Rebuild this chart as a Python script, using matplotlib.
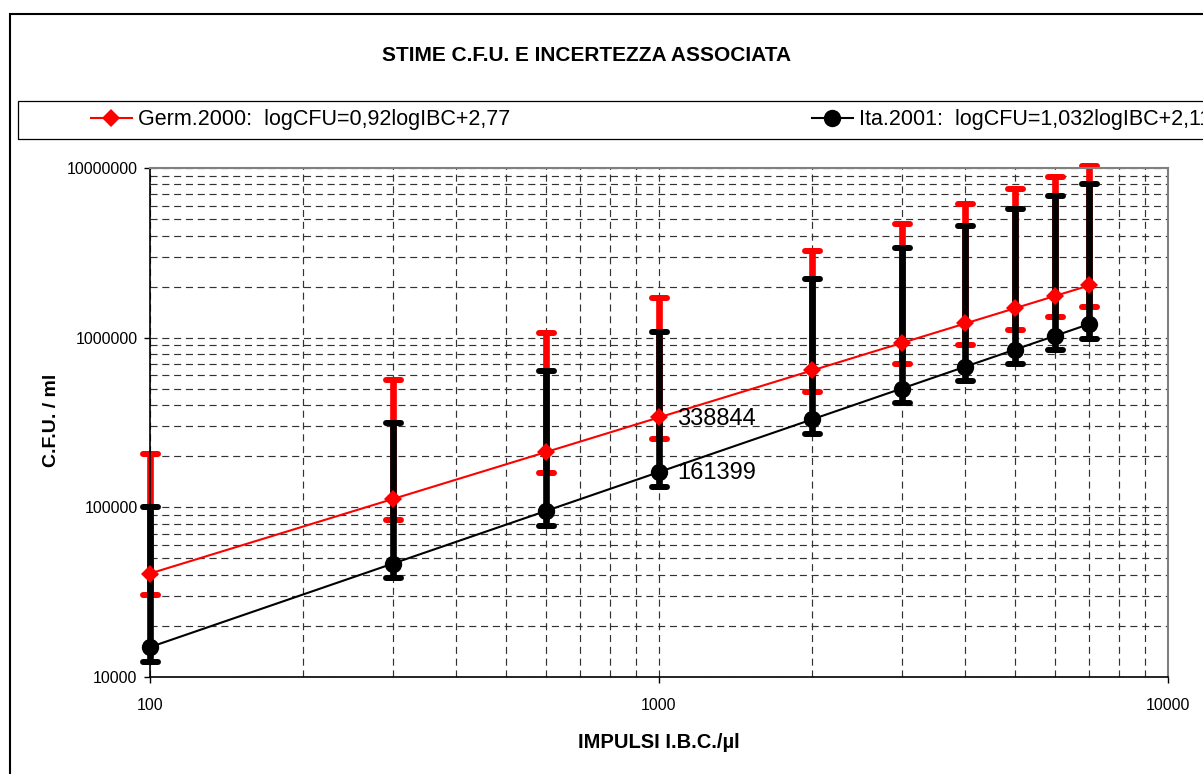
"""
CFU estimates vs IBC impulses with associated uncertainty (log-log).
Germ.2000 and Ita.2001 regressions with asymmetric error bars.
"""

import matplotlib
matplotlib.use("Agg")
import matplotlib.pyplot as plt
from matplotlib.markers import MarkerStyle
from matplotlib.patches import Rectangle
from matplotlib.ticker import LogLocator, FuncFormatter, NullFormatter

plt.rcParams["font.family"] = ["Liberation Sans", "DejaVu Sans"]

# ── Data ──────────────────────────────────────────────────────────────────────
IBC = [100, 300, 600, 1000, 2000, 3000, 4000, 5000, 6000, 7000]

GERM     = [40738, 111950, 211770, 338844, 641180, 930980, 1213200, 1489400, 1761800, 2030400]
GERM_HI  = [205000, 563000, 1065000, 1704000, 3225000, 4683000, 6102000, 7492000, 8862000, 10213000]
GERM_LO  = [30550, 83960, 158830, 254130, 480890, 698240, 909900, 1117000, 1321400, 1522800]

ITA      = [15000, 46594, 95270, 161399, 330060, 501530, 674960, 849840, 1025500, 1202500]
ITA_HI   = [100500, 312200, 638300, 1081400, 2211400, 3360300, 4522200, 5693900, 6870900, 8056800]
ITA_LO   = [12300, 38210, 78120, 132350, 270650, 411250, 553470, 696870, 840900, 986050]

LABEL_GERM = "Germ.2000:  logCFU=0,92logIBC+2,77"
LABEL_ITA  = "Ita.2001:  logCFU=1,032logIBC+2,112"
LABEL_IDX  = 3  # point at 1000 impulses gets a value label

W, H = 1203, 774
RED, BLACK = "#FF0000", "#000000"


def px(x, y):
    """Pixel position (top-left origin) -> figure fraction."""
    return x / W, 1 - y / H


def draw_series(ax, y, hi, lo, color, marker, ms, z):
    yerr = [[v - l for v, l in zip(y, lo)], [h - v for v, h in zip(y, hi)]]
    eb = ax.errorbar(IBC, y, yerr=yerr, fmt="none", ecolor=color,
                     elinewidth=4.8, capsize=5.4, capthick=4.3, zorder=z)
    for cap in eb[1]:
        cap.set_marker(MarkerStyle("_", capstyle="round"))
        cap.set_clip_on(False)
    for coll in eb[2]:
        coll.set_clip_on(False)
    line, = ax.plot(IBC, y, color=color, linewidth=1.5, marker=marker,
                    markersize=ms, markeredgewidth=0, zorder=z + 2,
                    clip_on=False)
    return line


fig = plt.figure(figsize=(W / 100, H / 100), dpi=100)
ax = fig.add_axes([150 / W, 1 - 677 / H, (1168 - 150) / W, (677 - 168) / H])

h_germ = draw_series(ax, GERM, GERM_HI, GERM_LO, RED, "D", 9.5, 2)
h_ita  = draw_series(ax, ITA, ITA_HI, ITA_LO, BLACK, "o", 12.5, 2.5)

ax.annotate(f"{GERM[LABEL_IDX]:.0f}", (IBC[LABEL_IDX], GERM[LABEL_IDX]),
            xytext=(13, -1.5), textcoords="offset points",
            ha="left", va="center", fontsize=17, zorder=6)
ax.annotate(f"{ITA[LABEL_IDX]:.0f}", (IBC[LABEL_IDX], ITA[LABEL_IDX]),
            xytext=(13, -1), textcoords="offset points",
            ha="left", va="center", fontsize=17, zorder=6)

# ── Axes ──────────────────────────────────────────────────────────────────────
ax.set_xscale("log")
ax.set_yscale("log")
ax.set_xlim(100, 10000)
ax.set_ylim(1e4, 1e7)

ax.xaxis.set_major_locator(LogLocator(base=10))
ax.yaxis.set_major_locator(LogLocator(base=10))
ax.xaxis.set_minor_locator(LogLocator(base=10, subs=range(2, 10)))
ax.yaxis.set_minor_locator(LogLocator(base=10, subs=range(2, 10)))
plain = FuncFormatter(lambda v, p: f"{v:.0f}")
ax.xaxis.set_major_formatter(plain)
ax.yaxis.set_major_formatter(plain)
ax.xaxis.set_minor_formatter(NullFormatter())
ax.yaxis.set_minor_formatter(NullFormatter())

ax.tick_params(which="major", direction="out", length=4, width=1,
               labelsize=11.5, color="black")
ax.tick_params(axis="x", which="major", pad=11)
ax.tick_params(axis="y", which="major", pad=5)
ax.tick_params(which="minor", length=0)

ax.grid(True, which="both", linestyle=(0, (6, 4)), color="#333333",
        linewidth=0.85)
ax.set_axisbelow(True)

for side in ("left", "bottom"):
    ax.spines[side].set_color("black")
    ax.spines[side].set_linewidth(1.2)
for side in ("top", "right"):
    ax.spines[side].set_color("#808080")
    ax.spines[side].set_linewidth(1.5)

ax.set_xlabel("IMPULSI I.B.C./µl", fontsize=14.5, fontweight="bold", va="center")
ax.xaxis.set_label_coords(0.5, -0.128)
ax.set_ylabel("C.F.U. / ml", fontsize=14, fontweight="bold", va="center")
ax.yaxis.set_label_coords(-0.097, 0.504)

# ── Chart frame, title and legend ─────────────────────────────────────────────
x0, y0 = px(10, 14)
fig.patches.append(Rectangle((x0, -0.1), 1.2, y0 + 0.1, transform=fig.transFigure,
                             fill=False, edgecolor="black", linewidth=1.5))

fig.text(*px(586.5, 55.5), "STIME C.F.U. E INCERTEZZA ASSOCIATA",
         ha="center", va="center", fontsize=15, fontweight="bold")

# legend strip runs past the right edge of the chart area
lx, ly = px(18, 139)
fig.patches.append(Rectangle((lx, ly), 1.2, (139 - 101) / H, transform=fig.transFigure,
                             fill=False, edgecolor="black", linewidth=0.9))
fig.legend([h_germ, h_ita], [LABEL_GERM, LABEL_ITA], loc="center left",
           bbox_to_anchor=px(91, 120), ncol=2, frameon=False, fontsize=15.5,
           numpoints=1, handlelength=1.9, handletextpad=0.3,
           columnspacing=14.0, borderpad=0, borderaxespad=0)

fig.savefig("out.png", dpi=100)
plt.close(fig)
